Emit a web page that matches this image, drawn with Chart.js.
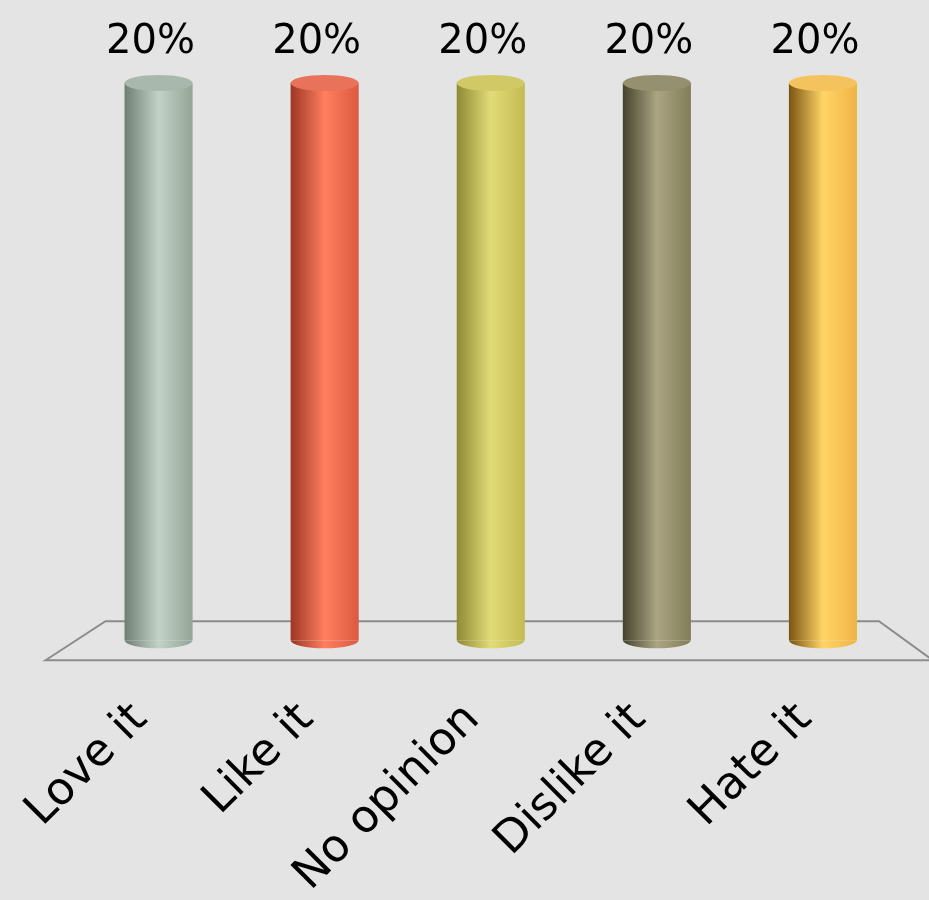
<!DOCTYPE html>
<html>
<head>
<meta charset="utf-8">
<script src="https://cdn.jsdelivr.net/npm/chart.js@4"></script>
<style>
  html, body { margin: 0; padding: 0; background: #e4e4e4; overflow: hidden; }
  #wrap { width: 929px; height: 947px; }
</style>
</head>
<body>
<div id="wrap"><canvas id="chart-opinion"></canvas></div>
<script>
// data
const categories = ['Love it', 'Like it', 'No opinion', 'Dislike it', 'Hate it'];
const shares = [20, 20, 20, 20, 20];
const valueLabels = ['20%', '20%', '20%', '20%', '20%'];

// cylinder shading: dark edge, highlight, main colour
const darkColors  = ['#6f7f75', '#9c3524', '#8f8a35', '#45432c', '#7a5412'];
const lightColors = ['#c2d2c6', '#ff7f5f', '#e2db78', '#aba583', '#ffd466'];
const mainColors  = ['#94a598', '#db5a40', '#c3bb52', '#827d58', '#f0b445'];
const capColors   = ['#a9b8ad', '#e8735a', '#d0c966', '#959070', '#f5c35d'];

function cylinderGradient(c, x, w, i) {
  const g = c.createLinearGradient(x - w / 2, 0, x + w / 2, 0);
  g.addColorStop(0, darkColors[i]);
  g.addColorStop(0.5, lightColors[i]);
  g.addColorStop(1, mainColors[i]);
  return g;
}

// floor + cylinder caps + value labels
const cylinderPlugin = {
  id: 'cylinders',
  beforeDatasetsDraw(chart) {
    const c = chart.ctx;
    const a = chart.chartArea;
    const base = chart.scales.y.getPixelForValue(0);
    c.save();
    c.strokeStyle = '#8c8c8c';
    c.lineWidth = 2;
    c.beginPath();
    c.moveTo(a.left - 30, base + 20);
    c.lineTo(a.left + 30, base - 19);
    c.lineTo(a.right - 27, base - 19);
    c.lineTo(a.right + 27, base + 20);
    c.closePath();
    c.stroke();
    c.restore();
  },
  afterDatasetsDraw(chart) {
    const c = chart.ctx;
    const meta = chart.getDatasetMeta(0);
    c.save();
    meta.data.forEach((bar, i) => {
      const w = bar.width;
      const ry = 8;
      // bottom round
      c.fillStyle = cylinderGradient(c, bar.x, w, i);
      c.beginPath();
      c.ellipse(bar.x, bar.base, w / 2, ry, 0, 0, Math.PI);
      c.fill();
      // top cap
      c.fillStyle = capColors[i];
      c.beginPath();
      c.ellipse(bar.x, bar.y, w / 2, ry, 0, 0, Math.PI * 2);
      c.fill();
      // value label
      c.fillStyle = '#000';
      c.font = '40px "DejaVu Sans"';
      c.textAlign = 'center';
      c.textBaseline = 'alphabetic';
      c.fillText(valueLabels[i], bar.x - 8, bar.y - 30);
    });
    c.restore();
  }
};

const ctx = document.getElementById('chart-opinion');
new Chart(ctx, {
  type: 'bar',
  data: {
    labels: categories,
    datasets: [{
      data: shares,
      backgroundColor: (context) => {
        const chart = context.chart;
        const i = context.dataIndex;
        if (!chart.chartArea) return mainColors[i];
        const x = chart.scales.x.getPixelForValue(i);
        const w = chart.scales.x.width / categories.length * 0.41;
        return cylinderGradient(chart.ctx, x, w, i);
      },
      borderWidth: 0,
      barPercentage: 0.41,
      categoryPercentage: 1
    }]
  },
  options: {
    responsive: true,
    maintainAspectRatio: false,
    animation: false,
    layout: {
      autoPadding: false,
      padding: { top: 83, left: 71, right: 23, bottom: 0 }
    },
    plugins: {
      legend: { display: false },
      tooltip: { enabled: false }
    },
    scales: {
      x: {
        grid: { display: false, drawBorder: false },
        border: { display: false },
        ticks: {
          color: '#000',
          font: { family: 'DejaVu Sans', size: 45 },
          minRotation: 45,
          maxRotation: 45,
          padding: 45,
          labelOffset: -18
        }
      },
      y: {
        display: false,
        min: 0,
        max: 20
      }
    }
  },
  plugins: [cylinderPlugin]
});
</script>
</body>
</html>
